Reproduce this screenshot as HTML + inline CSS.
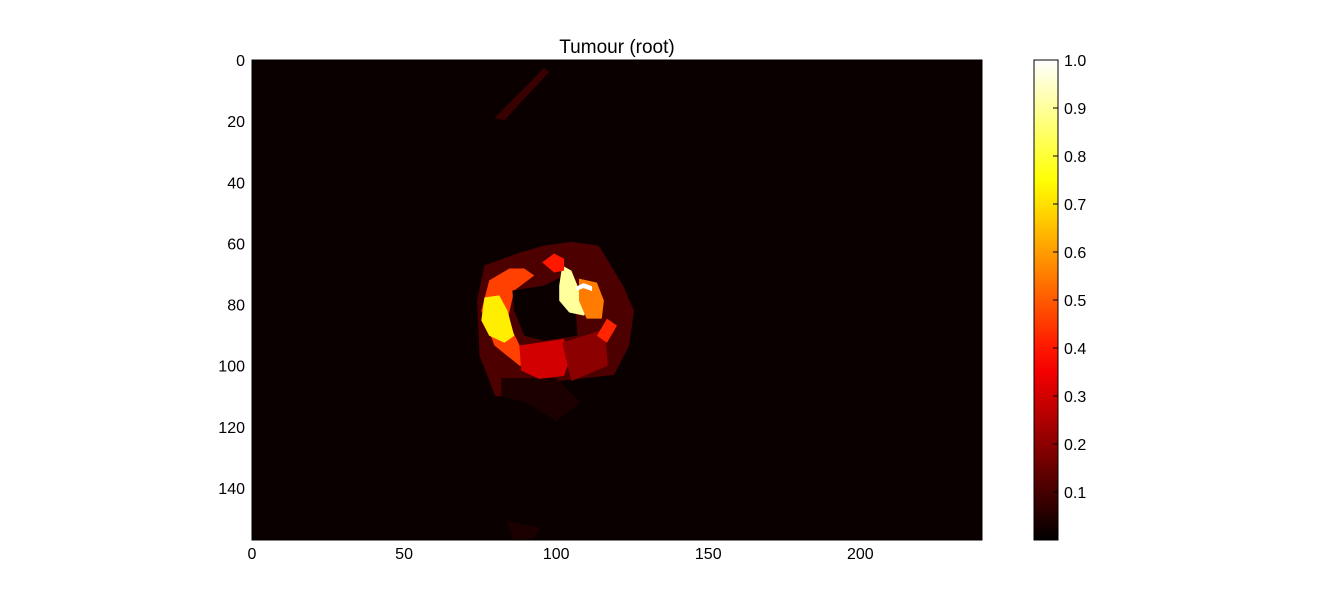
<!DOCTYPE html>
<html><head><meta charset="utf-8"><style>
body{margin:0;background:#fff;}
svg{display:block;font-family:"Liberation Sans","DejaVu Sans",sans-serif;}
</style></head><body>
<svg id="chart" width="1318" height="600"></svg>
<script>
// data (image coordinates: column, row) and intensity values
const xTicks=[0,50,100,150,200];
const yTicks=[0,20,40,60,80,100,120,140];
const cbTicks=[0.1,0.2,0.3,0.4,0.5,0.6,0.7,0.8,0.9,1.0];
const nCols=240, nRows=157;
const bgValue=0.015;
const regionNames=['halo','streak','below-faint','bottom-faint','left-arc','yellow-left','hole','red-bottom','dark-right','pale-yellow','orange-right','red-top','red-right','white-arc'];
const regionValues=[0.11,0.08,0.04,0.04,0.46,0.72,0.015,0.3,0.2,0.9,0.55,0.4,0.42,1.0];
const regionShapes=[
 [[76.4,67.2],[88,63],[96,60.7],[105,59.5],[114,60.7],[122,73.8],[125.6,82],[124,93.4],[119,103],[101,105],[91,110],[80,110],[74.8,96.7],[74,78.7]],
 [[96,2.6],[97.7,3.9],[83,19.7],[79.7,19]],
 [[82,104],[100,104],[108,112],[100,118],[90,112],[82,110]],
 [[84,151],[95,153],[92,157],[86,157]],
 [[78,72.1],[84.6,68.2],[89.5,68.2],[92.8,70.5],[86.2,75.4],[84,85.2],[88,93.4],[94.4,93.4],[97.7,98.4],[88,100],[79.7,93.4],[75.4,82]],
 [[76.4,77.7],[81.3,77],[84,82],[86.2,90.2],[83,92.5],[78,90.2],[75.4,85.2]],
 [[85.6,75.4],[96,73.8],[102.6,70.5],[106,75.4],[107,90.2],[96,91.8],[89.5,90.2],[86.2,82]],
 [[87.9,93.4],[102.6,91.2],[104.3,98.4],[102.6,103.3],[94.4,104.3],[88.5,101.6]],
 [[102,92.5],[116,88],[117,100],[105,105]],
 [[102,67.2],[105,68.9],[107,73.8],[110.8,78.7],[109.2,83.6],[104.3,82.6],[101,78.7],[101,73.8]],
 [[107.5,71.5],[113.4,72.8],[115.7,78.7],[115,84.6],[110,84.6],[107.5,78.7]],
 [[95.4,66.2],[99.3,63.3],[102.6,65],[102.6,68.9],[99.3,69.5]],
 [[116.7,84.6],[120,86.9],[116.7,92.5],[113.4,90.2]],
 [[106.5,74.2],[109,73],[111.8,74],[111.8,75.6],[109,74.6],[106.8,75.4]]
];
const NS='http://www.w3.org/2000/svg';
const svg=document.getElementById('chart');
const X0=252,X1=982,Y0=60,Y1=540;
const sx=v=>X0+v*(X1-X0)/nCols;
const sy=v=>Y0+v*(Y1-Y0)/nRows;
const CB={x:1034,w:24,y0:60,y1:540};
const cy=v=>CB.y1-v*(CB.y1-CB.y0);
function hot(v){const r=Math.min(1,v/0.365),g=Math.max(0,Math.min(1,(v-0.365)/0.381)),b=Math.max(0,Math.min(1,(v-0.746)/0.254));return `rgb(${Math.round(r*255)},${Math.round(g*255)},${Math.round(b*255)})`;}
function el(t,a,p){const e=document.createElementNS(NS,t);for(const k in a)e.setAttribute(k,a[k]);(p||svg).appendChild(e);return e;}
const bg=el('rect',{x:X0,y:Y0,width:X1-X0,height:Y1-Y0,fill:hot(bgValue)});


regionShapes.forEach((s,i)=>{
 const p=el('polygon',{points:s.map(q=>sx(q[0])+','+sy(q[1])).join(' '),fill:hot(regionValues[i])});
 
 
});
const frame=el('rect',{x:X0,y:Y0,width:X1-X0,height:Y1-Y0,fill:'none',stroke:'#000','stroke-width':1});


xTicks.forEach(v=>{
 const t=el('text',{x:sx(v),y:559,'font-size':16,'text-anchor':'middle'});t.textContent=v;
 
 
});
yTicks.forEach(v=>{
 const t=el('text',{x:245,y:sy(v)+6,'font-size':16,'text-anchor':'end'});t.textContent=v;
 
 
});
const title=el('text',{x:617,y:53,'font-size':19,'text-anchor':'middle'});title.textContent='Tumour (root)';


const defs=el('defs',{});
const lg=el('linearGradient',{id:'hotg',x1:0,y1:1,x2:0,y2:0},defs);
for(let i=0;i<=20;i++){el('stop',{offset:i/20,'stop-color':hot(i/20)},lg);}
const cb=el('rect',{x:CB.x,y:CB.y0,width:CB.w,height:CB.y1-CB.y0,fill:'url(#hotg)',stroke:'#000','stroke-width':1});


cbTicks.forEach(v=>{
 const y=cy(v);
 el('line',{x1:CB.x+CB.w-5,x2:CB.x+CB.w,y1:y,y2:y,stroke:'#000'});
 const t=el('text',{x:1064,y:y+6,'font-size':16});t.textContent=v.toFixed(1);
 
 
});
</script>
</body></html>
